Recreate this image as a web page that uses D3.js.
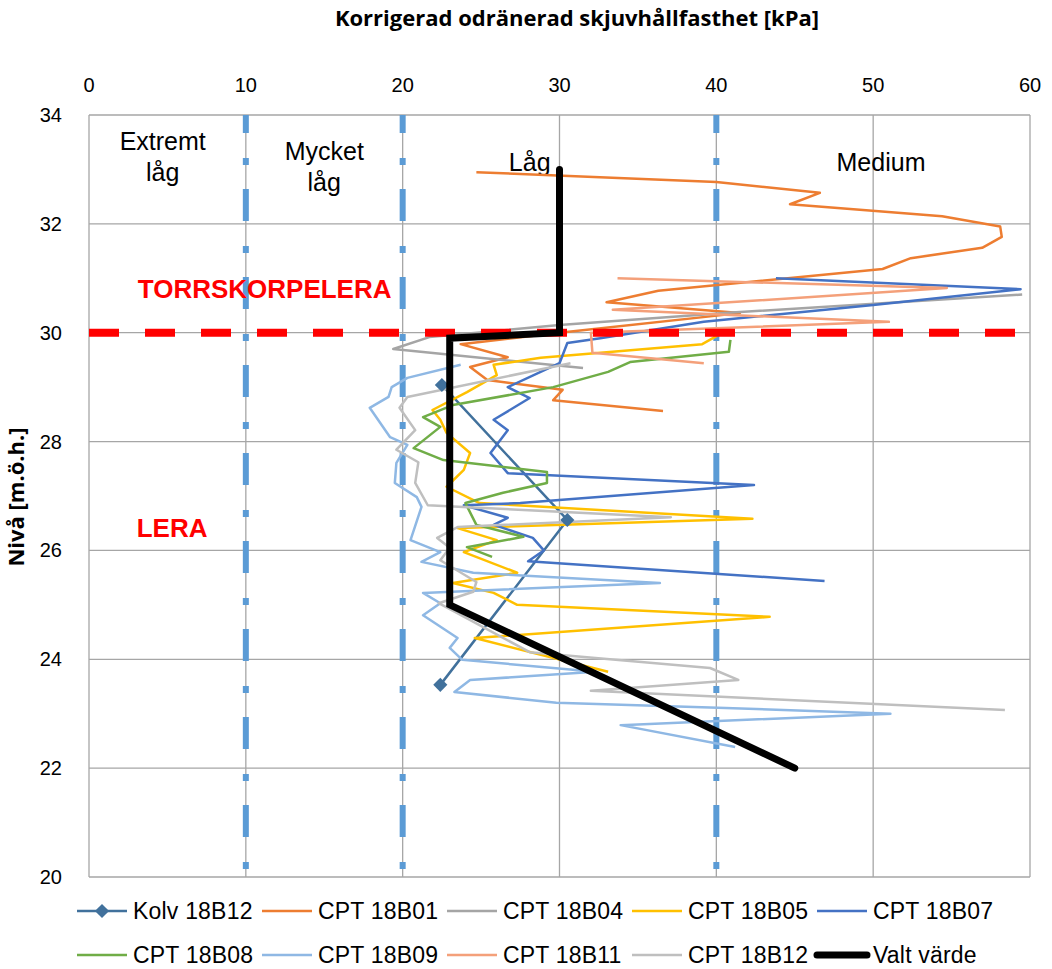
<!DOCTYPE html>
<html>
<head>
<meta charset="utf-8">
<script src="https://d3js.org/d3.v7.min.js"></script>
<style>
  body { margin: 0; background: #fff; }
  svg { font-family: "Liberation Sans", Arial, sans-serif; }
  .tick-label { font-size: 20px; fill: #000; }
  .zone { font-size: 25px; fill: #000; }
  .legend-text { font-size: 23px; fill: #000; letter-spacing: 0.2px; }
</style>
</head>
<body>
<svg id="chart" width="1052" height="969"></svg>
<script>
// ---- data (x = kPa, y = level m.ö.h.) ----
const xTicks = [0, 10, 20, 30, 40, 50, 60];
const yTicks = [20, 22, 24, 26, 28, 30, 32, 34];
const zoneNames = [["Extremt", "låg"], ["Mycket", "låg"], ["Låg"], ["Medium"]];
const soilNames = ["TORRSKORPELERA", "LERA"];
const classLimits = [10, 20, 40];
const crustLevel = 30;

const kolv18B12 = [[22.5, 29.04], [30.5, 26.56], [22.4, 23.53]];
const cpt18B01 = [[24.7, 32.95], [40.0, 32.77], [46.6, 32.57], [44.7, 32.36], [54.4, 32.14], [58.1, 31.95],
  [58.2, 31.76], [56.95, 31.56], [52.4, 31.37], [50.6, 31.17], [36.3, 30.77], [33.0, 30.56], [41.5, 30.36],
  [30.0, 30.0], [23.7, 29.79], [26.7, 29.55], [24.3, 29.37], [25.4, 29.13], [30.2, 28.95], [29.6, 28.76], [36.6, 28.56]];
const cpt18B04 = [[59.5, 30.7], [41.0, 30.37], [30.0, 30.14], [21.7, 29.92], [19.4, 29.7], [31.5, 29.35]];
const cpt18B05 = [[40.4, 30.0], [39.1, 29.79], [28.8, 29.54], [25.8, 29.41], [26.0, 29.22], [24.1, 28.91],
  [21.9, 28.58], [22.4, 28.4], [22.8, 28.16], [24.3, 27.79], [23.9, 27.48], [22.8, 27.17], [24.9, 26.87],
  [42.3, 26.58], [23.5, 26.41], [26.0, 26.19], [23.9, 25.97], [27.3, 25.59], [23.2, 25.4], [25.8, 25.22],
  [27.3, 25.0], [43.4, 24.78], [24.6, 24.39], [33.1, 23.77]];
const cpt18B07 = [[43.8, 31.0], [59.4, 30.8], [50.0, 30.51], [39.2, 30.2], [32.6, 29.9], [30.5, 29.81],
  [30.0, 29.44], [26.7, 29.0], [28.1, 28.8], [25.8, 28.4], [26.7, 28.21], [25.6, 27.79], [26.7, 27.42],
  [42.4, 27.2], [27.5, 26.87], [23.9, 26.83], [26.7, 26.6], [25.8, 26.47], [28.3, 26.23], [29.0, 26.0],
  [28.0, 25.8], [46.9, 25.44]];
const cpt18B08 = [[40.9, 29.87], [40.8, 29.65], [34.5, 29.46], [33.1, 29.28], [29.6, 29.0], [23.2, 28.67],
  [21.3, 28.45], [22.4, 28.27], [20.7, 27.88], [22.6, 27.66], [29.2, 27.44], [29.2, 27.24], [26.4, 27.06],
  [24.0, 26.87], [24.7, 26.47], [27.7, 26.25], [24.1, 26.06], [25.7, 25.88]];
const cpt18B09 = [[23.7, 29.41], [20.3, 29.17], [19.3, 29.0], [19.1, 28.82], [17.9, 28.62], [19.2, 28.08],
  [20.3, 27.94], [19.6, 27.61], [19.5, 27.24], [20.9, 26.98], [21.2, 26.8], [20.5, 26.19], [22.4, 25.97],
  [21.2, 25.79], [24.5, 25.59], [36.4, 25.4], [21.3, 25.22], [22.4, 25.03], [21.3, 24.81], [23.5, 24.39],
  [23.0, 24.21], [23.8, 23.99], [32.3, 23.77], [24.3, 23.62], [23.3, 23.4], [29.8, 23.2], [40.1, 23.11],
  [51.1, 23.0], [33.9, 22.79], [41.2, 22.39]];
const cpt18B11 = [[33.7, 31.0], [54.7, 30.82], [33.4, 30.42], [51.0, 30.2], [32.0, 30.0], [32.1, 29.63], [39.2, 29.44]];
const cpt18B12 = [[30.7, 29.44], [20.3, 28.82], [19.8, 28.62], [20.8, 28.21], [19.6, 27.85], [21.0, 27.62],
  [20.8, 27.24], [21.6, 26.83], [37.1, 26.61], [23.5, 26.43], [22.2, 26.23], [23.0, 26.05], [22.4, 25.82],
  [24.7, 25.42], [24.5, 25.24], [22.3, 25.03], [28.1, 24.13], [39.6, 23.84], [41.4, 23.62], [32.0, 23.42], [58.4, 23.07]];
const valtVarde = [[30, 33], [30, 30], [23, 29.9], [23, 25], [45, 22]];

const seriesNames = ["Kolv 18B12", "CPT 18B01", "CPT 18B04", "CPT 18B05", "CPT 18B07",
                     "CPT 18B08", "CPT 18B09", "CPT 18B11", "CPT 18B12", "Valt värde"];
const seriesData = [kolv18B12, cpt18B01, cpt18B04, cpt18B05, cpt18B07,
                    cpt18B08, cpt18B09, cpt18B11, cpt18B12, valtVarde];
const seriesColors = ["#41719C", "#ED7D31", "#A5A5A5", "#FFC000", "#4472C4",
                      "#70AD47", "#8FB8E4", "#F4A07A", "#BFBFBF", "#000000"];

// ---- layout ----
const svg = d3.select('#chart');
const margin = { top: 115, left: 89, right: 22, bottom: 92 };
const width = 1052, height = 969;
const innerWidth = width - margin.left - margin.right;
const innerHeight = height - margin.top - margin.bottom;

const x = d3.scaleLinear().domain([0, 60]).range([0, innerWidth]);
const y = d3.scaleLinear().domain([20, 34]).range([innerHeight, 0]);

const g = svg.append('g').attr('transform', `translate(${margin.left},${margin.top})`);

// grid
g.append('g').selectAll('line').data(xTicks).join('line')
  .attr('x1', d => x(d)).attr('x2', d => x(d)).attr('y1', 0).attr('y2', innerHeight)
  .attr('stroke', '#A6A6A6').attr('stroke-width', 1.3);
g.append('g').selectAll('line').data(yTicks).join('line')
  .attr('x1', 0).attr('x2', innerWidth).attr('y1', d => y(d)).attr('y2', d => y(d))
  .attr('stroke', '#A6A6A6').attr('stroke-width', 1.3);

// tick labels
g.append('g').selectAll('text').data(xTicks).join('text')
  .attr('class', 'tick-label').attr('text-anchor', 'middle')
  .attr('x', d => x(d)).attr('y', -23).text(d => d);
g.append('g').selectAll('text').data(yTicks).join('text')
  .attr('class', 'tick-label').attr('text-anchor', 'end')
  .attr('x', -27).attr('y', d => y(d) + 7).text(d => d);

// strength class limits (blue dash-dot)
g.append('g').selectAll('line').data(classLimits).join('line')
  .attr('x1', d => x(d)).attr('x2', d => x(d)).attr('y1', 0).attr('y2', innerHeight + 4)
  .attr('stroke', '#5B9BD5').attr('stroke-width', 6)
  .attr('stroke-dasharray', '32,25,7,24').attr('stroke-dashoffset', 14);

// zone labels
const zonePos = [[4.7, 33.35], [15, 33.17], [28.1, 32.97], [50.5, 32.97]];
zoneNames.forEach((lines, i) => {
  const t = g.append('text').attr('class', 'zone').attr('text-anchor', 'middle')
    .attr('x', x(zonePos[i][0])).attr('y', y(zonePos[i][1]));
  lines.forEach((s, j) => t.append('tspan').attr('x', x(zonePos[i][0])).attr('dy', j ? 31 : 0).text(s));
});

// series lines
const line = d3.line().x(d => x(d[0])).y(d => y(d[1]));
seriesData.forEach((data, i) => {
  if (i === 9) return;
  g.append('path').datum(data).attr('d', line)
    .attr('fill', 'none').attr('stroke', seriesColors[i]).attr('stroke-width', 2.5)
    .attr('stroke-linejoin', 'round');
});
g.selectAll('.kolv').data(kolv18B12).join('rect').attr('class', 'kolv')
  .attr('x', -5).attr('y', -5).attr('width', 10).attr('height', 10)
  .attr('transform', d => `translate(${x(d[0])},${y(d[1])}) rotate(45)`)
  .attr('fill', seriesColors[0]);

// red dashed crust boundary
g.append('line').attr('x1', 0).attr('x2', innerWidth).attr('y1', y(crustLevel)).attr('y2', y(crustLevel))
  .attr('stroke', '#FF0000').attr('stroke-width', 8).attr('stroke-dasharray', '30,26');

// chosen value
g.append('path').datum(valtVarde).attr('d', line)
  .attr('fill', 'none').attr('stroke', '#000').attr('stroke-width', 7)
  .attr('stroke-linejoin', 'miter').attr('stroke-linecap', 'round');

// soil labels
g.append('text').attr('x', x(11.2)).attr('y', y(30.63)).attr('text-anchor', 'middle')
  .attr('fill', '#FF0000').attr('font-weight', 'bold').attr('font-size', 26).text(soilNames[0]);
g.append('text').attr('x', x(5.3)).attr('y', y(26.24)).attr('text-anchor', 'middle')
  .attr('fill', '#FF0000').attr('font-weight', 'bold').attr('font-size', 26).text(soilNames[1]);

// titles
svg.append('text').attr('x', 577).attr('y', 26).attr('text-anchor', 'middle')
  .attr('font-weight', 'bold').attr('font-size', 22).attr('font-family', '"Open Sans", sans-serif')
  .text('Korrigerad odränerad skjuvhållfasthet [kPa]');
svg.append('text').attr('transform', 'translate(24,497) rotate(-90)')
  .attr('text-anchor', 'middle').attr('font-weight', 'bold').attr('font-size', 22)
  .attr('font-family', '"Open Sans", sans-serif')
  .text('Nivå [m.ö.h.]');

// legend
const legend = svg.append('g');
seriesNames.forEach((name, i) => {
  const lx = 77 + (i % 5) * 185;
  const ly = i < 5 ? 911 : 955;
  const item = legend.append('g').attr('transform', `translate(${lx},${ly})`);
  item.append('line').attr('x1', 0).attr('x2', 50).attr('y1', 0).attr('y2', 0)
    .attr('stroke', seriesColors[i]).attr('stroke-width', i === 9 ? 7 : 2.5)
    .attr('stroke-linecap', i === 9 ? 'round' : 'butt');
  if (i === 0) {
    item.append('rect').attr('x', -5).attr('y', -5).attr('width', 10).attr('height', 10)
      .attr('transform', 'translate(25,0) rotate(45)').attr('fill', seriesColors[0]);
  }
  item.append('text').attr('class', 'legend-text').attr('x', 56).attr('y', 8).text(name);
});
</script>
</body>
</html>
